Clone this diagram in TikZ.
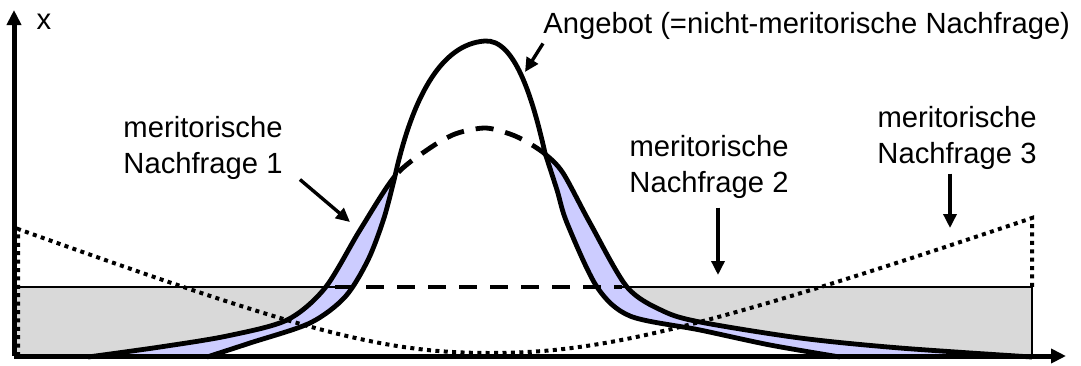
\documentclass[tikz,border=0pt]{standalone}
\usepackage{fontspec}
\setmainfont{Liberation Sans}
\usetikzlibrary{arrows.meta}

\definecolor{boxgray}{RGB}{217,217,217}
\definecolor{lavender}{RGB}{204,204,255}

\begin{document}
\begin{tikzpicture}[
  x=0.5pt, y=-0.5pt,
  lbl/.style={align=center, inner sep=0pt, font=\fontsize{14.6}{18}\selectfont},
  arr/.style={-{Triangle[length=7pt,width=6.5pt]}, line width=1.7pt},
  axis/.style={-{Triangle[length=7.5pt,width=7pt]}, line width=2.5pt},
  curve/.style={line width=2.4pt, line join=round},
  dashline/.style={line width=1.6pt, dash pattern=on 9pt off 6.5pt},
  dots/.style={line width=2pt, dash pattern=on 2pt off 2.2pt}
]
\useasboundingbox (0,0) rectangle (1081,365);

% meritorische Nachfrage 2 (Rechteck)
\fill[boxgray] (15,287) rectangle (1032,356);

% Kurven
\path[save path=\nfeins] plot[smooth, tension=0.5] coordinates {
  (88,357) (160,347) (227,336) (287,320) (325,288) (360,230) (395,176)
  (427,150) (455,134) (485,128) (510,134) (527,142) (545,154) (563,173)
  (590,223) (627,287) (663,311) (700,322) (800,338) (900,348) (1032,357)};
\path[save path=\angebot] plot[smooth, tension=0.5] coordinates {
  (207,357) (250,343) (310,323) (345,297) (368,260) (384,218) (395,176)}
  .. controls (412,100) and (440,44) .. (485,41)
  .. controls (514,39) and (532,95) .. (545,153)
  -- plot[smooth, tension=0.5] coordinates {
  (545,153) (557,190) (567,223) (597,287) (630,316) (700,330) (770,345)
  (840,357)};

\fill[lavender, use path=\nfeins];
\fill[white, use path=\angebot];

\draw[line width=1.4pt] (15,287) -- (335,287);
\draw[dashline] (335,287) -- (622,287);
\draw[line width=1.4pt] (622,287) -- (1032,287) -- (1032,356);

\begin{scope}
  \clip (0,0) rectangle (395,365) (545,0) rectangle (1081,365);
  \draw[curve, use path=\nfeins];
\end{scope}
\begin{scope}
  \clip (395,0) rectangle (545,365);
  \draw[curve, dash pattern=on 9pt off 6pt, use path=\nfeins];
\end{scope}
\draw[curve, use path=\angebot];

% meritorische Nachfrage 3
\draw[dots] (18,356) -- (18,229)
  .. controls (300,330) and (380,353) .. (490,353)
  .. controls (600,353) and (700,330) .. (1032,218) -- (1032,287);

% Achsen
\coordinate (o) at (14,356);
\coordinate (ytop) at (14,10);
\coordinate (xend) at (1066,356);
\draw[axis] (o) -- (ytop);
\draw[axis] (o) -- (xend);
\node[lbl] (xlab) at (44,22) {x};

% Beschriftungen
\node[lbl, anchor=base west] (ang) at (543,33) {Angebot (=nicht-meritorische Nachfrage)};
\node[lbl] (n1) at (203,147.5) {meritorische\\Nachfrage 1};
\node[lbl] (n2) at (709,166.5) {meritorische\\Nachfrage 2};
\node[lbl] (n3) at (957,137.5) {meritorische\\Nachfrage 3};

\coordinate (angtip) at (525,72);
\coordinate (n1tip) at (350,222);
\coordinate (n2tip) at (718,275);
\coordinate (n3tip) at (950,228);

\draw[arr] ([yshift=-2pt]ang.south west) -- (angtip);
\draw[arr] ([xshift=8.5pt]n1.south east) -- (n1tip);
\draw[arr] ([xshift=4.5pt,yshift=-4.5pt]n2.south) -- (n2tip);
\draw[arr] ([xshift=-3.5pt,yshift=-2pt]n3.south) -- (n3tip);
\end{tikzpicture}
\end{document}
